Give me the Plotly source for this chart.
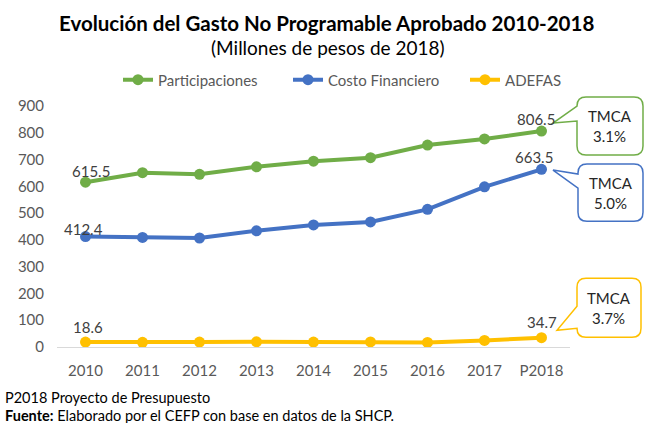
import plotly.graph_objects as go

categories = ["2010", "2011", "2012", "2013", "2014", "2015", "2016", "2017", "P2018"]
participaciones = [615.5, 651.0, 645.0, 673.0, 694.0, 707.0, 754.0, 777.0, 806.5]
costo_financiero = [412.4, 409.0, 407.0, 434.0, 456.0, 467.0, 514.0, 598.0, 663.5]
adefas = [18.6, 17.5, 18.5, 19.5, 18.5, 19.0, 17.0, 24.5, 34.7]
y_ticks = [0, 100, 200, 300, 400, 500, 600, 700, 800, 900]
tmca = {"Participaciones": "3.1%", "Costo Financiero": "5.0%", "ADEFAS": "3.7%"}

W, H = 647, 423
L, R, T, B = 57, 570, 106, 346.7

GREEN, BLUE, YELLOW = "#70AD47", "#4472C4", "#FFC000"
FONT = "Lato, Calibri, Carlito, sans-serif"


def px(x):
    return (x - L) / (R - L)


def py(y):
    return (B - y) / (B - T)


fig = go.Figure()
series = [("Participaciones", participaciones, GREEN, "legend"),
          ("Costo Financiero", costo_financiero, BLUE, "legend2"),
          ("ADEFAS", adefas, YELLOW, "legend3")]
for name, vals, col, leg in series:
    fig.add_trace(go.Scatter(
        x=categories, y=vals, name=name, mode="lines+markers",
        line=dict(color=col, width=4), marker=dict(color=col, size=11),
        cliponaxis=False, legend=leg,
    ))

# data labels at the first and last points (offsets in pixels)
label_offsets = {
    "Participaciones": [(5, 11), (-6, 12)],
    "Costo Financiero": [(-2, 8), (-8, 12)],
    "ADEFAS": [(2, 15), (0, 16)],
}
for name, vals, col, leg in series:
    for (dx, dy), i in zip(label_offsets[name], (0, len(vals) - 1)):
        fig.add_annotation(x=i, y=vals[i], xref="x", yref="y",
                           text=f"{vals[i]:.1f}", showarrow=False,
                           xanchor="center", yanchor="middle",
                           xshift=dx, yshift=dy,
                           font=dict(family=FONT, size=15, color="#404040"))


def callout(x0, y0, x1, y1, yb0, yb1, tx, ty, r=9):
    pts = [("M", [(x0 + r, y0)]), ("L", [(x1 - r, y0)]), ("Q", [(x1, y0), (x1, y0 + r)]),
           ("L", [(x1, y1 - r)]), ("Q", [(x1, y1), (x1 - r, y1)]), ("L", [(x0 + r, y1)]),
           ("Q", [(x0, y1), (x0, y1 - r)]), ("L", [(x0, yb1)]), ("L", [(tx, ty)]),
           ("L", [(x0, yb0)]), ("L", [(x0, y0 + r)]), ("Q", [(x0, y0), (x0 + r, y0)])]
    s = ""
    for cmd, ps in pts:
        s += cmd + " " + " ".join(f"{px(a):.5f},{py(b):.5f}" for a, b in ps) + " "
    return s + "Z"


boxes = [
    ("Participaciones", GREEN, (577, 97, 643, 155, 106, 121, 553, 123)),
    ("Costo Financiero", BLUE, (578, 164, 643, 221, 174, 188, 553, 170)),
    ("ADEFAS", YELLOW, (577, 278, 641, 337, 306, 328, 557, 330)),
]
for name, col, (x0, y0, x1, y1, yb0, yb1, tx, ty) in boxes:
    fig.add_shape(type="path", xref="paper", yref="paper",
                  path=callout(x0, y0, x1, y1, yb0, yb1, tx, ty),
                  line=dict(color=col, width=1.5), fillcolor="white", layer="above")
    fig.add_annotation(xref="paper", yref="paper", x=px((x0 + x1) / 2), y=py((y0 + y1) / 2),
                       xanchor="center", yanchor="middle",
                       text="TMCA<br>" + tmca[name], showarrow=False,
                       font=dict(family=FONT, size=15, color="#262626"), align="center")

fig.add_annotation(xref="paper", yref="paper", x=px(326), y=py(23), xanchor="center", yanchor="middle",
                   text="<b>Evolución del Gasto No Programable Aprobado 2010-2018</b>", showarrow=False,
                   font=dict(family=FONT, size=20.5, color="#000000"))
fig.add_annotation(xref="paper", yref="paper", x=px(328), y=py(48), xanchor="center", yanchor="middle",
                   text="(Millones de pesos de 2018)", showarrow=False,
                   font=dict(family=FONT, size=19, color="#000000"))
fig.add_annotation(xref="paper", yref="paper", x=px(3), y=py(397), xanchor="left", yanchor="middle",
                   text="P2018 Proyecto de Presupuesto", showarrow=False,
                   font=dict(family=FONT, size=14.5, color="#000000"))
fig.add_annotation(xref="paper", yref="paper", x=px(3), y=py(415), xanchor="left", yanchor="middle",
                   text="<b>Fuente:</b> Elaborado por el CEFP con base en datos de la SHCP.", showarrow=False,
                   font=dict(family=FONT, size=14.5, color="#000000"))

leg_common = dict(orientation="h", xanchor="left", yanchor="middle", y=py(80),
                  font=dict(family=FONT, size=15, color="#595959"), bgcolor="rgba(0,0,0,0)")
fig.update_layout(
    width=W, height=H,
    margin=dict(l=L, r=W - R, t=T, b=H - B, pad=0),
    paper_bgcolor="white", plot_bgcolor="white",
    font=dict(family=FONT, color="#595959"),
    showlegend=True,
    legend=dict(x=px(118), **leg_common),
    legend2=dict(x=px(288), **leg_common),
    legend3=dict(x=px(465), **leg_common),
    xaxis=dict(type="category", categoryorder="array", categoryarray=categories,
               range=[-0.5, len(categories) - 0.5],
               showgrid=False, showline=True, linecolor="#D9D9D9", linewidth=1,
               ticks="", ticklabelstandoff=10, zeroline=False,
               tickfont=dict(family=FONT, size=15, color="#595959")),
    yaxis=dict(range=[0, 900], tickvals=y_ticks, showgrid=False, showline=False, zeroline=False,
               ticks="", ticklabelstandoff=12,
               tickfont=dict(family=FONT, size=15, color="#595959")),
)

fig.write_html("out.html", config={"displayModeBar": False},
               post_script="document.body.style.margin='0';document.body.style.overflow='hidden';")
